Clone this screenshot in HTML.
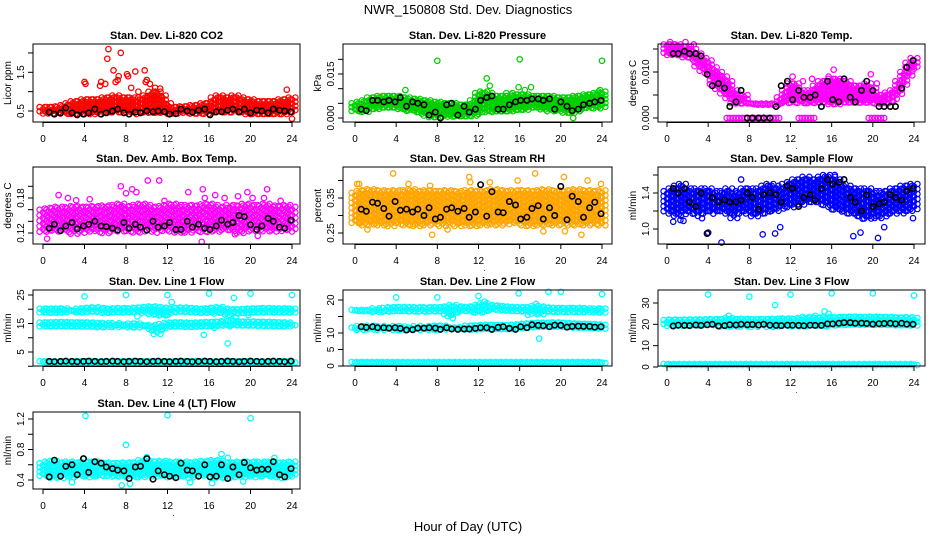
<!DOCTYPE html>
<html><head><meta charset="utf-8"><title>NWR_150808 Std. Dev. Diagnostics</title>
<style>
html,body{margin:0;padding:0;background:#fff;}
svg{display:block;font-family:"Liberation Sans",sans-serif;}
</style></head>
<body>
<svg id="chart" width="936" height="540" viewBox="0 0 936 540" xmlns="http://www.w3.org/2000/svg">
<rect x="0" y="0" width="936" height="540" fill="#fff"/>
<text x="468" y="14" text-anchor="middle" font-size="13">NWR_150808  Std. Dev. Diagnostics</text>
<text x="468" y="531" text-anchor="middle" font-size="13">Hour of Day (UTC)</text>
</svg>
<script>
// ---------- shared categories ----------
const T=[0,0.5,1,1.5,2,2.5,3,3.5,4,4.5,5,5.5,6,6.5,7,7.5,8,8.5,9,9.5,10,10.5,11,11.5,12,12.5,13,13.5,14,14.5,15,15.5,16,16.5,17,17.5,18,18.5,19,19.5,20,20.5,21,21.5,22,22.5,23,23.5,24];
const BT=[0.6,1.1,1.7,2.2,2.8,3.3,3.9,4.4,5,5.6,6.1,6.7,7.2,7.8,8.3,8.9,9.4,10,10.6,11.1,11.7,12.2,12.8,13.3,13.9,14.4,15,15.6,16.1,16.7,17.2,17.8,18.3,18.9,19.4,20,20.6,21.1,21.7,22.2,22.8,23.3,23.9];
const xTicks=[0,4,8,12,16,20,24];
const xLabels=["0","4","8","12","16","20","24"];

// ---------- Panel 1: CO2 ----------
const co2Ticks=[0.5,1,1.5,2];
const co2Labels=["0.5","","1.5",""];
const co2Lo=[0.42,0.42,0.42,0.42,0.42,0.42,0.42,0.42,0.42,0.42,0.42,0.42,0.42,0.42,0.42,0.42,0.42,0.42,0.42,0.42,0.42,0.42,0.42,0.42,0.42,0.42,0.42,0.42,0.42,0.42,0.42,0.42,0.42,0.42,0.42,0.42,0.42,0.42,0.42,0.42,0.42,0.42,0.42,0.42,0.42,0.42,0.42,0.42,0.42];
const co2Hi=[0.6,0.6,0.6,0.62,0.65,0.7,0.75,0.75,0.8,0.8,0.8,0.8,0.85,0.85,0.9,0.85,0.85,0.85,0.8,0.85,0.9,1.0,1.0,0.9,0.7,0.6,0.6,0.62,0.62,0.65,0.65,0.7,0.7,0.85,0.9,0.85,0.85,0.9,0.85,0.8,0.8,0.75,0.75,0.75,0.75,0.75,0.8,0.8,0.85];
const co2OutT=[4,4.1,5.5,5.6,6,6.2,6.3,6.8,7,7.2,7.3,7.5,8.1,8.2,8.5,8.9,9.2,9.8,9.9,10,10.3,10.8,11.3,23.5,24];
const co2OutV=[1.25,1.2,1.15,1.25,1.2,1.85,2.1,1.55,1.25,1.3,1.4,2.0,1.45,1.4,1.1,1.52,1.0,1.55,1.25,1.3,1.2,1.1,1.08,1.05,0.3];
const co2Black=[0.47,0.42,0.45,0.58,0.45,0.4,0.42,0.45,0.55,0.42,0.45,0.5,0.55,0.45,0.42,0.47,0.45,0.5,0.48,0.5,0.48,0.42,0.43,0.55,0.5,0.47,0.52,0.55,0.4,0.48,0.48,0.52,0.55,0.48,0.55,0.45,0.52,0.5,0.45,0.55,0.52,0.5,0.48];

// ---------- Panel 2: Pressure (units of 0.001 kPa) ----------
const prTicks=[0,5,10,15,20];
const prLabels=["0.000","","","0.015",""];
const prLo=[2,2,2,2.5,3,3,3,3,3,2.5,2,2,1.5,1,0.5,0,0,0,0,0,0,0,0,0.5,1,2,2,2,2,2,2,2.5,2.5,2.5,3,3,2.5,2.5,2,2,2,1.5,1.5,2,2.5,3,3,3,3.5];
const prHi=[5,5.5,6,7,7,7.5,7.5,7.5,7.5,7,7,6.5,6.5,6,6,5.5,5.5,5,5,5,4.5,4.5,4.5,6,8.5,9,8.5,7.5,7.5,7.5,7.5,8,8,8,7.5,7.5,7.5,7.5,7.5,7,7,7,7,7.5,7.5,8,8,8.5,9];
const prOutT=[8,16,24,12.8,13.1,4.9,15.9,16.5,17.1,21.2,23.8,14.7,15.3];
const prOutV=[19.5,20,19.5,13.5,11,9.5,10.5,9.5,10.5,0,9.5,8.5,8.5];
const prBlack=[3,2.5,6,6,5.5,6,5.5,7,4,5.5,5,4.5,1,2,0,4.5,5,1,4,2,3,6,7,7.5,3,3,4.5,5.5,6,6,6.5,6.5,6,6.5,3,5.5,4,2.5,3,4.5,5,5.5,6];

// ---------- Panel 3: Li-820 Temp (units of 0.001 C) ----------
const tpTicks=[0,5,10,15];
const tpLabels=["0.000","","0.010",""];
const tpLo=[13.5,13.5,13.5,13,13,12.5,11,10,9,7,6,5,4,3,3,3,3,3,3,3,3,3,3,3,3,3,3,3,3,3,3,3,3,3,3,3,3,3,3,3,3,3,3,3,3.5,5,7,9,10.5];
const tpHi=[16,16,16,15.5,15.5,15,14,13,12.5,11,10,9,8,6,5,5,3.5,3,3,3,3,3,4.5,6,7.5,7.5,6,5.5,6,7,8,8,8.5,8.5,8,8,7,7,7,7.5,6.5,5,5,5.5,6,8,10,12,13];
const tpZeroT=[5.8,6.1,6.4,6.7,7,7.3,7.6,8.2,8.5,8.8,9.1,9.4,9.7,10,10.3,10.6,10.9,12.8,13.1,13.4,13.7,14,14.3,19.6,19.9,20.2,20.5,20.8,21.1];
const tpZeroV=[0,0,0,0,0,0,0,0,0,0,0,0,0,0,0,0,0,0,0,0,0,0,0,0,0,0,0,0,0];
const tpOutT=[0.3,1.8,2.6,13.2,14.1,15.7,16.2,19.8,12.2,20.4];
const tpOutV=[16.5,16.5,16,8,8.5,9,10.5,9.5,9,7.5];
const tpBlack=[14,14,14.5,14,14,13.5,9.5,7,7.5,6.5,2.5,3.5,6,0,0,0,0,0,2.5,7,8,4,6,4.5,4.5,5,2.5,8,4,3.5,8.5,4.5,3.5,6,8,6,2.5,2.5,2.5,2.5,6.5,11,12.5];

// ---------- Panel 4: Amb. Box Temp (units of 0.001 C) ----------
const abTicks=[120,140,160,180,200];
const abLabels=["0.12","","","0.18",""];
const abLo=[122,120,121,119,120,121,118,120,120,119,121,120,118,120,121,119,120,121,120,119,122,120,118,120,121,120,119,121,120,122,120,119,121,121,120,122,121,120,119,121,122,120,121,119,121,120,122,121,122];
const abHi=[160,162,163,165,162,164,166,165,163,165,166,164,167,165,168,170,166,165,168,170,168,165,163,166,168,170,168,165,168,167,166,169,170,168,165,163,168,166,167,170,168,166,168,170,167,165,166,168,165];
const abOutT=[0.4,1.5,2.4,3.2,4.5,7.5,8,8.6,9,10.1,11.2,11.7,14,15.3,15.4,15.6,16.6,17.5,18.8,19.7,20.2,21.3,21.6,22.9,18.5,20.7];
const abOutV=[110,185,180,176,178,200,188,195,190,210,210,175,190,105,195,180,185,180,183,190,180,180,195,175,118,115];
const abBlack=[128,135,124,132,138,127,132,135,140,132,131,128,125,138,128,135,130,125,140,130,132,138,126,126,140,130,135,128,126,132,142,135,138,150,148,134,126,132,145,140,130,128,142];

// ---------- Panel 5: Gas Stream RH (units of 0.001 percent) ----------
const rhTicks=[250,300,350,400];
const rhLabels=["0.25","","0.35",""];
const rhLo=[275,272,270,272,275,270,272,270,274,272,270,275,270,272,270,275,272,270,274,272,270,275,272,270,272,270,272,275,270,272,270,274,272,272,270,275,272,270,272,270,275,272,270,274,272,270,272,275,272];
const rhHi=[365,370,372,375,370,372,368,370,372,368,372,375,370,368,372,370,368,370,372,368,370,365,372,370,368,372,370,375,372,370,368,372,370,372,370,368,372,375,370,372,368,370,372,375,370,372,370,368,372];
const rhOutT=[0.2,0.4,0.8,0.5,3.7,5.2,7.5,7.3,11.1,11.2,15.8,17.5,18.3,20.3,20.4,22,22.6,1.2,9,13.1,23.9];
const rhOutV=[390,390,370,280,420,390,245,385,410,395,400,420,255,410,255,245,400,260,260,395,390];
const rhBlack=[318,312,338,335,320,298,340,315,318,310,318,300,322,290,295,318,322,312,320,295,310,388,298,368,310,308,340,330,290,295,320,328,290,322,300,383,288,355,340,295,322,338,305];

// ---------- Panel 6: Sample Flow ----------
const sfTicks=[1.0,1.2,1.4,1.6];
const sfLabels=["1.0","","1.4",""];
const sfLo=[1.18,1.15,1.12,1.15,1.18,1.15,1.12,1.15,1.18,1.15,1.2,1.18,1.15,1.12,1.15,1.18,1.15,1.12,1.15,1.15,1.18,1.2,1.22,1.25,1.22,1.25,1.25,1.28,1.3,1.28,1.25,1.25,1.2,1.2,1.18,1.15,1.15,1.12,1.1,1.1,1.12,1.1,1.12,1.15,1.15,1.18,1.15,1.18,1.2];
const sfHi=[1.42,1.45,1.48,1.5,1.45,1.42,1.45,1.42,1.45,1.42,1.4,1.42,1.45,1.4,1.42,1.45,1.45,1.42,1.45,1.48,1.5,1.48,1.45,1.5,1.52,1.55,1.55,1.58,1.55,1.55,1.58,1.6,1.58,1.55,1.5,1.48,1.45,1.45,1.42,1.45,1.42,1.4,1.42,1.42,1.45,1.45,1.48,1.48,1.5];
const sfOutT=[4,5.3,9.3,10.5,11,14.8,16.3,18.1,18.8,20.5,21.1,23.9,1.3,1.6,3.4,7.2,9.8,0.6];
const sfOutV=[0.96,0.85,0.94,0.95,1.02,1.55,1.6,0.92,0.96,0.9,1.02,1.12,1.1,1.09,1.12,1.55,1.48,1.08];
const sfBlack=[1.45,1.4,1.45,1.3,1.25,1.4,0.95,1.35,1.3,1.32,1.3,1.3,1.32,1.4,1.35,1.22,1.38,1.4,1.38,1.3,1.48,1.45,1.25,1.35,1.38,1.32,1.45,1.55,1.5,1.52,1.55,1.35,1.3,1.2,1.38,1.25,1.28,1.3,1.38,1.35,1.32,1.42,1.45];

// ---------- Panel 7: Line 1 Flow ----------
const l1Ticks=[0,5,10,15,20,25];
const l1Labels=["","5","","15","","25"];
const l1aLo=[18.8,18.8,18.7,18.8,18.8,18.9,18.8,18.7,18.8,18.8,18.9,18.8,18.7,18.6,18.7,18.8,18.6,18.7,18.6,18.5,18.4,18.2,18.0,17.5,17.8,18.5,18.7,18.8,18.8,18.7,18.7,18.6,18.8,18.3,18.5,17.6,17.5,18.3,18.2,18.5,18.6,18.7,18.6,18.8,18.8,18.7,18.8,18.8,18.8];
const l1aHi=[20.2,20.2,20.1,20.2,20.3,20.2,20.1,20.2,20.3,20.5,20.7,20.4,20.1,20.2,20.3,20.4,20.2,20.3,20.5,20.6,20.8,21.0,20.8,20.5,20.0,20.3,20.5,20.6,20.4,20.3,20.2,20.1,20.3,20.5,20.8,20.2,20.0,19.8,20.0,20.1,20.2,20.3,20.2,20.4,20.3,20.2,20.3,20.2,20.2];
const l1bLo=[13.8,13.8,13.9,13.8,13.8,13.9,13.8,13.7,13.8,13.8,13.7,13.6,13.7,13.8,13.7,13.7,13.8,13.6,13.5,13.6,13.5,12.5,11.0,12.5,13.5,13.5,13.6,13.7,13.6,13.7,13.5,13.6,13.7,13.4,13.8,14.0,14.0,13.9,14.0,13.9,14.0,13.9,14.0,13.9,14.0,14.0,13.9,13.9,14.0];
const l1bHi=[15.3,15.4,15.4,15.5,15.5,15.4,15.4,15.3,15.3,15.3,15.2,15.0,15.2,15.1,15.1,15.0,15.0,15.0,15.0,14.9,14.8,14.5,14.0,14.8,15.2,15.3,15.4,15.3,15.1,15.2,15.3,15.4,15.5,15.5,15.6,15.8,16.0,15.8,15.7,15.6,15.7,15.6,15.5,15.6,15.5,15.4,15.4,15.3,15.2];
const l1cLo=[1.2,1.2,1.2,1.2,1.2,1.2,1.2,1.2,1.2,1.2,1.2,1.2,1.2,1.2,1.2,1.2,1.2,1.2,1.2,1.2,1.2,1.2,1.2,1.2,1.2,1.2,1.2,1.2,1.2,1.2,1.2,1.2,1.2,1.2,1.2,1.2,1.2,1.2,1.2,1.2,1.2,1.2,1.2,1.2,1.2,1.2,1.2,1.2,1.2];
const l1cHi=[1.9,1.9,1.9,1.9,1.9,1.9,1.9,1.9,1.9,1.9,1.9,1.9,1.9,1.9,1.9,1.9,1.9,1.9,1.9,1.9,1.9,1.9,1.9,1.9,1.9,1.9,1.9,1.9,1.9,1.9,1.9,1.9,1.9,1.9,1.9,1.9,1.9,1.9,1.9,1.9,1.9,1.9,1.9,1.9,1.9,1.9,1.9,1.9,1.9];
const l1OutT=[4,8,12,16,20,24,12.4,15.5,17.8,18.4,18.6,19.8,9.1,11.8];
const l1OutV=[24.5,25,25,25.5,25.5,25,22.5,11,8,24,17,18,17.5,18];
const l1Black=[1.7,1.6,1.7,1.8,1.7,1.6,1.7,1.8,1.7,1.6,1.7,1.8,1.7,1.6,1.7,1.8,1.7,1.6,1.7,1.8,1.7,1.6,1.7,1.8,1.7,1.6,1.7,1.8,1.7,1.6,1.7,1.8,1.7,1.6,1.7,1.8,1.7,1.6,1.7,1.8,1.7,1.6,1.8];

// ---------- Panel 8: Line 2 Flow ----------
const l2Ticks=[0,5,10,15,20];
const l2Labels=["0","5","10","","20"];
const l2aLo=[16.3,16.2,16.3,16.2,16.3,16.3,16.2,16.3,16.3,16.4,16.5,16.4,16.4,16.3,16.4,16.4,16.3,16.2,15.0,15.5,16.2,16.3,16.4,16.2,15.8,16.5,16.6,16.6,16.5,16.4,16.3,16.3,16.3,16.2,16.2,15.8,15.5,16.0,16.2,16.3,16.2,16.3,16.2,16.3,16.2,16.2,16.3,16.2,16.2];
const l2aHi=[17.4,17.3,17.4,17.3,17.5,17.4,17.6,17.8,17.8,17.9,17.8,17.7,17.8,17.6,17.8,17.7,17.8,17.8,18.0,18.5,18.0,17.8,17.9,18.0,18.5,19.0,18.5,18.3,18.2,18.0,17.9,17.8,17.8,17.7,17.8,18.2,18.0,17.7,17.6,17.6,17.5,17.6,17.5,17.6,17.5,17.5,17.4,17.4,17.4];
const l2bLo=[10.9,10.9,11,11,11,10.9,10.9,11,10.9,10.8,10.8,10.9,10.8,10.9,10.9,10.8,10.9,11,11,11,10.9,11,11,11,11.1,11.2,11.2,11.1,11.1,11,11.1,11.2,11.3,11.5,11.6,11.7,11.8,11.8,11.8,11.9,11.8,11.7,11.6,11.5,11.5,11.4,11.4,11.3,11.3];
const l2bHi=[12,12.1,12.1,12.2,12.1,12.1,12,12.1,12.1,12,11.9,12,12.1,12,12,12.1,12.2,12.2,12.1,12,12,12.1,12.2,12.2,12.3,12.4,12.5,12.4,12.4,12.3,12.4,12.5,12.6,12.8,12.9,13,13.1,13.1,13.1,13.2,13.1,13,12.9,12.8,12.8,12.7,12.7,12.6,12.5];
const l2cLo=[0.7,0.7,0.7,0.7,0.7,0.7,0.7,0.7,0.7,0.7,0.7,0.7,0.7,0.7,0.7,0.7,0.7,0.7,0.7,0.7,0.7,0.7,0.7,0.7,0.7,0.7,0.7,0.7,0.7,0.7,0.7,0.7,0.7,0.7,0.7,0.7,0.7,0.7,0.7,0.7,0.7,0.7,0.7,0.7,0.7,0.7,0.7,0.7,0.7];
const l2cHi=[1.4,1.4,1.4,1.4,1.4,1.4,1.4,1.4,1.4,1.4,1.4,1.4,1.4,1.4,1.4,1.4,1.4,1.4,1.4,1.4,1.4,1.4,1.4,1.4,1.4,1.4,1.4,1.4,1.4,1.4,1.4,1.4,1.4,1.4,1.4,1.4,1.4,1.4,1.4,1.4,1.4,1.4,1.4,1.4,1.4,1.4,1.4,1.4,1.4];
const l2OutT=[4,8,12,15.9,18.8,20,24,17.9,9.5,12.5,12.6,17.6,9.3,16.8];
const l2OutV=[20.8,20.8,21.2,22,22.5,22.5,21.8,8.3,14.5,16.5,19.5,18.8,15.5,15.5];
const l2Black=[11.9,11.7,11.9,11.6,11.6,11.5,11.6,11.4,10.9,11,11.5,11.5,11.6,11.5,11.1,11.6,11.2,11.1,11.2,11.2,11.4,11.6,11.6,11.1,11.7,11.9,11.4,11.1,11.9,11.6,12.5,12.3,12.2,11.9,12.4,12.3,11.8,12,12.1,12,12,11.8,11.9];

// ---------- Panel 9: Line 3 Flow ----------
const l3Ticks=[0,10,20,30];
const l3Labels=["0","10","20","30"];
const l3aLo=[18.8,18.9,18.8,19,18.9,18.8,18.9,19,18.8,18.9,18.8,18.7,18.8,18.9,19,18.5,18.9,18.8,18.9,19,18.8,18.9,19,19,18.9,18.8,18.9,19,18.9,18.8,18.9,19,19.2,19.3,19.2,19.3,19.2,19.3,19.2,19.3,19.2,19.3,19.2,19.3,19.2,19.3,19.2,19.3,19.2];
const l3aHi=[22,22.2,22.1,22,22.2,22.3,22.1,22.2,22.3,22.4,22.3,22.5,23,22.5,22.4,22.6,22.3,22.4,22.3,22.5,22.4,22.6,22.5,22.8,22.4,22.6,23,23.5,23,23.2,23,23.5,23,23.5,23.3,23.5,23.6,23.5,23.4,23.5,23.6,23.3,23.4,23.5,23.2,23.1,23.2,23.3,23];
const l3cLo=[0.5,0.5,0.5,0.5,0.5,0.5,0.5,0.5,0.5,0.5,0.5,0.5,0.5,0.5,0.5,0.5,0.5,0.5,0.5,0.5,0.5,0.5,0.5,0.5,0.5,0.5,0.5,0.5,0.5,0.5,0.5,0.5,0.5,0.5,0.5,0.5,0.5,0.5,0.5,0.5,0.5,0.5,0.5,0.5,0.5,0.5,0.5,0.5,0.5];
const l3cHi=[1.8,1.8,1.8,1.8,1.8,1.8,1.8,1.8,1.8,1.8,1.8,1.8,1.8,1.8,1.8,1.8,1.8,1.8,1.8,1.8,1.8,1.8,1.8,1.8,1.8,1.8,1.8,1.8,1.8,1.8,1.8,1.8,1.8,1.8,1.8,1.8,1.8,1.8,1.8,1.8,1.8,1.8,1.8,1.8,1.8,1.8,1.8,1.8,1.8];
const l3OutT=[4,8,12,16,20,24,10.5,15.3,15.7,6,14.4];
const l3OutV=[34,33,34,34.5,34.5,33.5,29,26,25,24,24];
const l3Black=[19.2,19.6,19.5,19.4,19.7,19.5,19.8,20,19.2,19.4,19.8,19.7,20,19.8,19.9,19.7,20,19.6,19.5,19.4,19.6,19.6,19.5,19.3,19.6,19.5,19.5,20.2,20.2,20.5,20.8,20.8,20.5,20.6,20.4,20.1,20.3,20.4,20.5,20.2,20.5,20.1,20];

// ---------- Panel 10: Line 4 (LT) Flow ----------
const l4Ticks=[0.4,0.6,0.8,1.0,1.2];
const l4Labels=["0.4","","0.8","","1.2"];
const l4Lo=[0.43,0.42,0.42,0.43,0.42,0.43,0.42,0.43,0.42,0.43,0.42,0.43,0.44,0.43,0.42,0.43,0.42,0.43,0.42,0.43,0.44,0.43,0.42,0.43,0.42,0.43,0.42,0.43,0.42,0.43,0.42,0.43,0.42,0.43,0.42,0.43,0.42,0.43,0.42,0.43,0.42,0.43,0.42,0.43,0.42,0.43,0.42,0.43,0.43];
const l4Hi=[0.62,0.64,0.65,0.63,0.62,0.64,0.63,0.62,0.64,0.63,0.64,0.62,0.63,0.62,0.61,0.62,0.63,0.62,0.63,0.66,0.65,0.64,0.64,0.65,0.63,0.64,0.63,0.64,0.62,0.63,0.64,0.65,0.64,0.66,0.65,0.63,0.62,0.63,0.64,0.63,0.64,0.63,0.64,0.62,0.64,0.63,0.62,0.63,0.64];
const l4OutT=[4.1,12,20,8,7.6,8.4,2.8,17.2,10,16.3,19.3,14.2,22.3,17.8];
const l4OutV=[1.24,1.25,1.21,0.86,0.33,0.35,0.37,0.74,0.7,0.36,0.38,0.37,0.69,0.69];
const l4Black=[0.44,0.66,0.45,0.58,0.6,0.47,0.68,0.5,0.64,0.62,0.57,0.55,0.53,0.52,0.42,0.57,0.58,0.68,0.41,0.52,0.47,0.45,0.43,0.62,0.53,0.52,0.45,0.6,0.44,0.45,0.6,0.42,0.57,0.47,0.63,0.56,0.53,0.54,0.54,0.64,0.47,0.44,0.55];

// ---------- layout ----------
const svg=document.getElementById('chart');
const NS='http://www.w3.org/2000/svg';
const COLS=[{L:33,R:300,x0:43,x24:292},{L:343,R:612,x0:355,x24:602},{L:658,R:925,x0:667,x24:914}];
const ROWS=[{top:44,bot:122},{top:167,bot:244},{top:290,bot:366},{top:412,bot:489}];

function el(tag,parent){const e=document.createElementNS(NS,tag);parent.appendChild(e);return e;}

function panel(name,col,row,title,ylab,ticks,labels,v1,p1,v2,p2){
  const c=COLS[col],r=ROWS[row];
  const g=el('g',svg);
  
  
  const x=t=>c.x0+(c.x24-c.x0)*t/24;
  const y=v=>p1+(v-v1)*(p2-p1)/(v2-v1);
  const marks=el('g',g);
  
  
  const box=el('rect',g);
  box.setAttribute('x',c.L);box.setAttribute('y',r.top);
  box.setAttribute('width',c.R-c.L);box.setAttribute('height',r.bot-r.top);
  box.setAttribute('fill','none');box.setAttribute('stroke','#000');box.setAttribute('stroke-width','1');
  
  
  const tt=el('text',g);
  tt.setAttribute('x',(c.L+c.R)/2);tt.setAttribute('y',r.top-5);
  tt.setAttribute('text-anchor','middle');tt.setAttribute('font-size','11');tt.setAttribute('font-weight','bold');
  tt.textContent=title;
  
  
  const yl=el('text',g);
  const ylx=c.L-22,yly=(r.top+r.bot)/2;
  yl.setAttribute('x',ylx);yl.setAttribute('y',yly);yl.setAttribute('text-anchor','middle');
  yl.setAttribute('font-size','10');yl.setAttribute('transform','rotate(-90 '+ylx+' '+yly+')');
  yl.textContent=ylab;
  
  
  const xa=el('g',g);
  
  
  const xl=el('line',xa);
  xl.setAttribute('x1',x(xTicks[0]));xl.setAttribute('x2',x(xTicks[xTicks.length-1]));
  xl.setAttribute('y1',r.bot+0.5);xl.setAttribute('y2',r.bot+0.5);xl.setAttribute('stroke','#000');
  xTicks.forEach((t,i)=>{
    const tk=el('line',xa);
    tk.setAttribute('x1',x(t));tk.setAttribute('x2',x(t));tk.setAttribute('y1',r.bot);tk.setAttribute('y2',r.bot+5);tk.setAttribute('stroke','#000');
    const lb=el('text',xa);
    lb.setAttribute('x',x(t));lb.setAttribute('y',r.bot+20);lb.setAttribute('text-anchor','middle');lb.setAttribute('font-size','10');
    lb.textContent=xLabels[i];
    
    
  });
  const dot=el('text',xa);
  dot.setAttribute('x',x(12)+5);dot.setAttribute('y',r.bot+27);dot.setAttribute('font-size','8');dot.textContent='.';
  const ya=el('g',g);
  
  
  const yln=el('line',ya);
  yln.setAttribute('x1',c.L);yln.setAttribute('x2',c.L);
  yln.setAttribute('y1',y(ticks[0]));yln.setAttribute('y2',y(ticks[ticks.length-1]));yln.setAttribute('stroke','#000');
  ticks.forEach((v,i)=>{
    const tk=el('line',ya);
    tk.setAttribute('x1',c.L-5);tk.setAttribute('x2',c.L);tk.setAttribute('y1',y(v));tk.setAttribute('y2',y(v));tk.setAttribute('stroke','#000');
    if(labels[i]){
      const lb=el('text',ya);const lx=c.L-9,ly=y(v);
      lb.setAttribute('x',lx);lb.setAttribute('y',ly);lb.setAttribute('text-anchor','middle');lb.setAttribute('font-size','10');
      lb.setAttribute('transform','rotate(-90 '+lx+' '+ly+')');
      lb.textContent=labels[i];
      
      
    }
  });
  return {x,y,marks};
}

function circ(parent,cx,cy,color,w){
  const e=el('circle',parent);
  e.setAttribute('cx',cx.toFixed(1));e.setAttribute('cy',cy.toFixed(1));e.setAttribute('r','2.7');
  e.setAttribute('fill','none');e.setAttribute('stroke',color);e.setAttribute('stroke-width',w);
  return e;
}

function band(P,name,lo,hi,color,step){
  const g=el('g',P.marks);
  
  
  const st=step||3.8;
  const offs=[-3.4,0,3.4];
  T.forEach((t,i)=>{
    const yT=P.y(hi[i]),yB=P.y(lo[i]);
    offs.forEach((o,k)=>{
      const span=yB-yT;
      if(span<st){circ(g,P.x(t)+o,(yT+yB)/2+(k-1)*0.6,color,'1.2');return;}
      for(let yy=yT+(k%2)*st/2;yy<=yB;yy+=st){circ(g,P.x(t)+o,yy,color,'1.2');}
    });
  });
}

function pts(P,name,times,vals,color,w){
  const g=el('g',P.marks);
  
  
  const n=Math.min(times.length,vals.length);
  for(let i=0;i<n;i++){circ(g,P.x(times[i]),P.y(vals[i]),color,w);}
}

const RED='#ff0000',GRN='#00d000',MAG='#ff00ff',ORG='#ffa500',BLU='#0000ff',CYA='#00ffff',BLK='#000000';

let P;
P=panel('co2',0,0,'Stan. Dev. Li-820 CO2','Licor ppm',co2Ticks,co2Labels,0.5,111,1.5,72.3);
band(P,'co2-band',co2Lo,co2Hi,RED,4.2);pts(P,'co2-outliers',co2OutT,co2OutV,RED,'1.3');pts(P,'co2-reference-points',BT,co2Black,BLK,'1.6');

P=panel('pressure',1,0,'Stan. Dev. Li-820 Pressure','kPa',prTicks,prLabels,0,118,15,74);
band(P,'pressure-band',prLo,prHi,GRN,3.8);pts(P,'pressure-outliers',prOutT,prOutV,GRN,'1.3');pts(P,'pressure-reference-points',BT,prBlack,BLK,'1.6');

P=panel('licor-temp',2,0,'Stan. Dev. Li-820 Temp.','degrees C',tpTicks,tpLabels,0,118,10,72);
band(P,'licor-temp-band',tpLo,tpHi,MAG,4.2);pts(P,'licor-temp-zero-points',tpZeroT,tpZeroV,MAG,'1.3');pts(P,'licor-temp-outliers',tpOutT,tpOutV,MAG,'1.3');pts(P,'licor-temp-reference-points',BT,tpBlack,BLK,'1.6');

P=panel('amb-box-temp',0,1,'Stan. Dev. Amb. Box Temp.','degrees C',abTicks,abLabels,120,233,180,198);
band(P,'amb-box-temp-band',abLo,abHi,MAG,5.5);pts(P,'amb-box-temp-outliers',abOutT,abOutV,MAG,'1.3');pts(P,'amb-box-temp-reference-points',BT,abBlack,BLK,'1.6');

P=panel('gas-rh',1,1,'Stan. Dev. Gas Stream RH','percent',rhTicks,rhLabels,250,233,350,198);
band(P,'gas-rh-band',rhLo,rhHi,ORG,5);pts(P,'gas-rh-outliers',rhOutT,rhOutV,ORG,'1.3');pts(P,'gas-rh-reference-points',BT,rhBlack,BLK,'1.6');

P=panel('sample-flow',2,1,'Stan. Dev. Sample Flow','ml/min',sfTicks,sfLabels,1.0,229,1.4,193);
band(P,'sample-flow-band',sfLo,sfHi,BLU,5);pts(P,'sample-flow-outliers',sfOutT,sfOutV,BLU,'1.3');pts(P,'sample-flow-reference-points',BT,sfBlack,BLK,'1.6');

P=panel('line1-flow',0,2,'Stan. Dev. Line 1 Flow','ml/min',l1Ticks,l1Labels,5,352,25,295);
band(P,'line1-upper-band',l1aLo,l1aHi,CYA);band(P,'line1-middle-band',l1bLo,l1bHi,CYA);band(P,'line1-lower-band',l1cLo,l1cHi,CYA);
pts(P,'line1-outliers',l1OutT,l1OutV,CYA,'1.3');pts(P,'line1-reference-points',BT,l1Black,BLK,'1.6');

P=panel('line2-flow',1,2,'Stan. Dev. Line 2 Flow','ml/min',l2Ticks,l2Labels,0,366,20,300);
band(P,'line2-upper-band',l2aLo,l2aHi,CYA);band(P,'line2-middle-band',l2bLo,l2bHi,CYA);band(P,'line2-lower-band',l2cLo,l2cHi,CYA);
pts(P,'line2-outliers',l2OutT,l2OutV,CYA,'1.3');pts(P,'line2-reference-points',BT,l2Black,BLK,'1.6');

P=panel('line3-flow',2,2,'Stan. Dev. Line 3 Flow','ml/min',l3Ticks,l3Labels,0,367,30,303);
band(P,'line3-upper-band',l3aLo,l3aHi,CYA);band(P,'line3-lower-band',l3cLo,l3cHi,CYA);
pts(P,'line3-outliers',l3OutT,l3OutV,CYA,'1.3');pts(P,'line3-reference-points',BT,l3Black,BLK,'1.6');

P=panel('line4-flow',0,3,'Stan. Dev. Line 4 (LT) Flow','ml/min',l4Ticks,l4Labels,0.4,480,1.2,419);
band(P,'line4-band',l4Lo,l4Hi,CYA,4.2);pts(P,'line4-outliers',l4OutT,l4OutV,CYA,'1.3');pts(P,'line4-reference-points',BT,l4Black,BLK,'1.6');
</script>
</body></html>
